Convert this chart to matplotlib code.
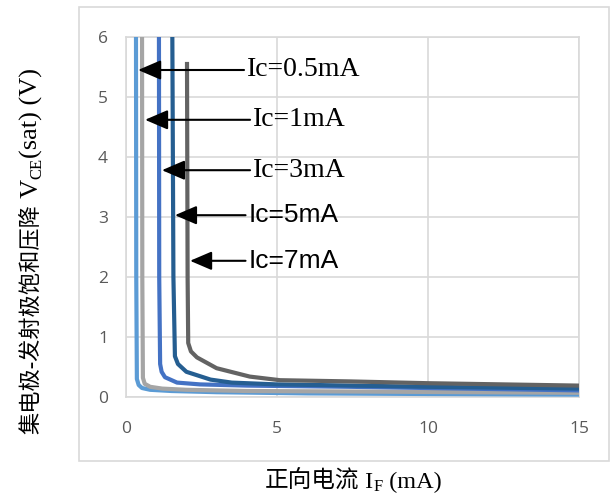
import matplotlib
matplotlib.use('Agg')
import matplotlib.pyplot as plt
from matplotlib.patches import Rectangle

# forward current I_F (mA) vs. V_CE(sat) (V), one curve per collector current
if_a = [0.33, 0.34, 0.36, 0.42, 0.53, 0.8, 1.5, 3.0, 6.0, 10.0, 15.0]
vce_a = [6.5, 2.0, 0.30, 0.20, 0.15, 0.12, 0.10, 0.08, 0.06, 0.05, 0.04]

if_b = [0.53, 0.54, 0.56, 0.62, 0.8, 1.2, 2.0, 4.0, 8.0, 15.0]
vce_b = [6.5, 2.0, 0.32, 0.22, 0.17, 0.14, 0.12, 0.10, 0.09, 0.07]

if_c = [1.09, 1.10, 1.13, 1.18, 1.29, 1.69, 2.45, 4.0, 7.4, 15.0]
vce_c = [6.5, 2.0, 0.55, 0.42, 0.33, 0.24, 0.21, 0.19, 0.17, 0.11]

if_d = [1.53, 1.57, 1.62, 1.72, 2.0, 2.8, 3.5, 5.0, 10.0, 15.0]
vce_d = [6.5, 2.0, 0.68, 0.55, 0.42, 0.29, 0.24, 0.21, 0.17, 0.14]

if_e = [2.02, 2.04, 2.06, 2.15, 2.35, 3.0, 4.1, 5.1, 7.4, 10.0, 15.0]
vce_e = [5.55, 2.0, 0.90, 0.76, 0.66, 0.48, 0.34, 0.28, 0.26, 0.23, 0.19]

curves = [(if_a, vce_a, '#5b9bd5'), (if_b, vce_b, '#a5a5a5'),
          (if_c, vce_c, '#4472c4'), (if_d, vce_d, '#255e91'),
          (if_e, vce_e, '#636363')]

# arrow labels: text, arrow tip (mA, V), text start (mA), serif?
labels = ['Ic=0.5mA', 'Ic=1mA', 'Ic=3mA', 'Ic=5mA', 'Ic=7mA']
tip_x = [0.40, 0.63, 1.19, 1.62, 2.12]
tip_y = [5.45, 4.62, 3.78, 3.03, 2.27]
text_x = [4.0, 4.2, 4.2, 4.05, 4.05]
serif = [True, True, True, False, False]

SERIF_CJK = ['Liberation Serif', 'Noto Sans CJK SC']

fig = plt.figure(figsize=(6.13, 4.97), dpi=100)
ax = fig.add_axes([126 / 613, 1 - 397 / 497, 453 / 613, 360 / 497])

fig.patches.append(Rectangle((79 / 613, 1 - 461 / 497), 530 / 613, 454 / 497,
                             transform=fig.transFigure, fill=False,
                             edgecolor='#d9d9d9', lw=1.2))

for x, y, c in curves:
    ax.plot(x, y, color=c, lw=3, solid_joinstyle='round', zorder=3)

for t, tx, ty, sx, sf in zip(labels, tip_x, tip_y, text_x, serif):
    fam = 'Liberation Serif' if sf else 'Liberation Sans'
    size = 20 if sf else 19
    ax.annotate(t, xy=(tx, ty), xytext=(sx, ty), ha='left', va='center',
                fontsize=size, family=fam, color='black', zorder=5,
                arrowprops=dict(arrowstyle='-|>,head_length=0.7,head_width=0.3',
                                color='black', lw=1.5, shrinkA=0, shrinkB=0))

ax.set_xlim(0, 15)
ax.set_ylim(0, 6)
ax.set_xticks([0, 5, 10, 15])
ax.set_yticks(range(7))
ax.grid(True, color='#d9d9d9', lw=1.2)
ax.set_axisbelow(True)
for s in ax.spines.values():
    s.set_color('#d9d9d9')
    s.set_linewidth(1.2)
ax.tick_params(length=0, colors='#595959', labelsize=12.5)
ax.tick_params(axis='x', pad=17)
ax.tick_params(axis='y', pad=13)
for lab in ax.get_xticklabels() + ax.get_yticklabels():
    lab.set_family('Open Sans')


def label_with_sub(parts, cx, cy, rot):
    """Lay out (text, size, baseline drop) pieces along one line, centred on (cx, cy) px."""
    r = fig.canvas.get_renderer()
    texts = []
    for s, size, drop in parts:
        t = fig.text(0, 0, s, fontsize=size, family=SERIF_CJK,
                     rotation=rot, rotation_mode='anchor', ha='left', va='baseline',
                     transform=None)
        texts.append((t, drop))
    lens = []
    for t, drop in texts:
        bb = t.get_window_extent(r)
        lens.append(bb.height if rot else bb.width)
    pos = -sum(lens) / 2
    for (t, drop), L in zip(texts, lens):
        if rot:
            t.set_position((cx + 6 + drop, cy + pos))
        else:
            t.set_position((cx + pos, cy - 6 - drop))
        pos += L


label_with_sub([('集电极-发射极饱和压降', 16, 0), (' V', 19, 0), ('CE', 12, 3),
                ('(sat) (V)', 19, 0)],
               32, 497 - 251, 90)
label_with_sub([('正向电流', 17, 0), (' I', 17.5, 0), ('F', 12, 3), (' (mA)', 17.5, 0)],
               353, 497 - 482, 0)

fig.savefig('out.png', dpi=100)
